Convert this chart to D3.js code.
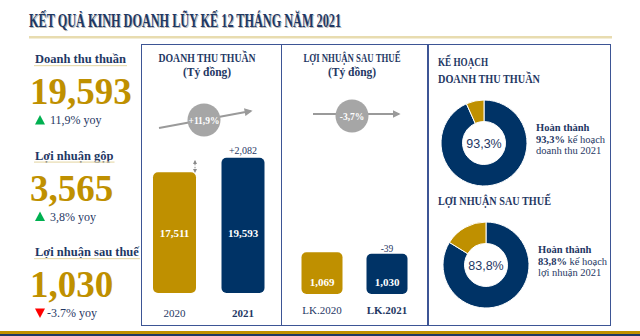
<!DOCTYPE html>
<html><head><meta charset="utf-8">
<script src="https://cdn.jsdelivr.net/npm/d3@7"></script>
<style>
html,body{margin:0;padding:0;background:#fff;}
svg{display:block;font-family:"Liberation Serif","DejaVu Serif",serif;}
</style></head>
<body>
<svg id="c" width="640" height="336"></svg>
<script>
// ---- data ----
const title = "KẾT QUẢ KINH DOANH LŨY KẾ 12 THÁNG NĂM 2021";
const metricNames = ["Doanh thu thuần", "Lợi nhuận gộp", "Lợi nhuận sau thuế"];
const metricValues = [19593, 3565, 1030];
const metricYoy = [11.9, 3.8, -3.7];
const metricYoyLabels = ["11,9% yoy", "3,8% yoy", "-3.7% yoy"];

const revenueTitle = ["DOANH THU THUẦN", "(Tỷ đồng)"];
const revenueCats = ["2020", "2021"];
const revenueVals = [17511, 19593];
const revenueDelta = "+2,082";
const revenueGrowth = "+11,9%";

const profitTitle = ["LỢI NHUẬN SAU THUẾ", "(Tỷ đồng)"];
const profitCats = ["LK.2020", "LK.2021"];
const profitVals = [1069, 1030];
const profitDelta = "-39";
const profitGrowth = "-3,7%";

const planHeaders = [["KẾ HOẠCH", "DOANH THU THUẦN"], ["LỢI NHUẬN SAU THUẾ"]];
const planPct = [93.3, 83.8];
const planPctLabels = ["93,3%", "83,8%"];
const planNotes = [["Hoàn thành", "93,3% kế hoạch", "doanh thu 2021"],
                   ["Hoàn thành", "83,8% kế hoạch", "lợi nhuận 2021"]];

// ---- style ----
const NAVY = "#1f3864", BAR_NAVY = "#003366", GOLD = "#bf9000", BEIGE = "#e8dcb0",
      BORDER = "#3d5595", GRAY = "#a6a6a6";
const fmt = d3.format(",");
const svg = d3.select("#c");

// title
svg.append("text").attr("x", 29).attr("y", 27).text(title)
  .attr("font-size", 18).attr("font-weight", "bold").attr("fill", "#bbb")
  .attr("textLength", 312).attr("lengthAdjust", "spacingAndGlyphs").attr("transform", "translate(1,1)");
svg.append("text").attr("x", 29).attr("y", 27).text(title)
  .attr("font-size", 18).attr("font-weight", "bold").attr("fill", NAVY)
  .attr("textLength", 312).attr("lengthAdjust", "spacingAndGlyphs");
svg.append("rect").attr("x", 29).attr("y", 36).attr("width", 583).attr("height", 2.5).attr("fill", BEIGE);

// bottom stripes
svg.append("rect").attr("x", 0).attr("y", 331).attr("width", 640).attr("height", 3).attr("fill", GOLD);
svg.append("rect").attr("x", 0).attr("y", 334).attr("width", 640).attr("height", 2).attr("fill", NAVY);

// panels
[[141, 281], [281, 427], [428, 610]].forEach(([a, b]) => {
  svg.append("rect").attr("x", a + 0.5).attr("y", 44.5).attr("width", b - a).attr("height", 281)
    .attr("fill", "none").attr("stroke", BORDER).attr("stroke-width", 1);
});

// left KPI column
const kpiY = d3.scalePoint().domain(metricNames).range([59, 252]);
metricNames.forEach((name, i) => {
  const y0 = kpiY(name);
  const t = svg.append("text").attr("x", 35).attr("y", y0 + 4).text(name)
    .attr("font-size", 12.5).attr("font-weight", "bold").attr("fill", NAVY);
  const w = t.node().getComputedTextLength();
  svg.append("rect").attr("x", 34).attr("y", y0 + 6).attr("width", w + 2).attr("height", 1.2).attr("fill", BEIGE);
  svg.append("text").attr("x", 30).attr("y", y0 + 45).text(fmt(metricValues[i]))
    .attr("font-size", 37).attr("font-weight", "bold").attr("fill", GOLD);
  const yy = y0 + 61;
  const up = metricYoy[i] >= 0;
  const tri = up ? `M35,${yy + 4.5} L45,${yy + 4.5} L40,${yy - 5} Z` : `M35,${yy - 4.5} L45,${yy - 4.5} L40,${yy + 5} Z`;
  svg.append("path").attr("d", tri).attr("fill", up ? "#00b050" : "#ff0000");
  svg.append("text").attr("x", up ? 50 : 47).attr("y", yy + 4).text(metricYoyLabels[i])
    .attr("font-size", 12).attr("fill", NAVY);
});

// helper: panel title
function panelTitle(cx, lines, w0) {
  lines.forEach((l, i) => {
    const t = svg.append("text").attr("x", cx).attr("y", 62 + i * 14).text(l)
      .attr("text-anchor", "middle").attr("font-size", 11.5).attr("font-weight", "bold").attr("fill", NAVY);
    if (i === 0) t.attr("textLength", w0).attr("lengthAdjust", "spacingAndGlyphs");
  });
}
const defs = svg.append("defs");
defs.append("marker").attr("id", "ah").attr("viewBox", "0 0 10 10").attr("refX", 8).attr("refY", 5)
  .attr("markerWidth", 4).attr("markerHeight", 4).attr("orient", "auto")
  .append("path").attr("d", "M0,0 L10,5 L0,10 Z").attr("fill", "#9a9a9a");
defs.append("marker").attr("id", "ahs").attr("viewBox", "0 0 10 10").attr("refX", 8).attr("refY", 5)
  .attr("markerWidth", 4).attr("markerHeight", 4).attr("orient", "auto-start-reverse")
  .append("path").attr("d", "M0,0 L10,5 L0,10 Z").attr("fill", "#8a8a8a");

function growthBadge(x1, y1, x2, y2, cx, cy, label) {
  svg.append("line").attr("x1", x1).attr("y1", y1).attr("x2", x2).attr("y2", y2)
    .attr("stroke", "#9a9a9a").attr("stroke-width", 2).attr("marker-end", "url(#ah)");
  svg.append("circle").attr("cx", cx).attr("cy", cy).attr("r", 16.5).attr("fill", GRAY);
  svg.append("text").attr("x", cx).attr("y", cy + 3.5).text(label).attr("text-anchor", "middle")
    .attr("font-size", 9.5).attr("font-weight", "bold").attr("fill", "#fff");
}

// Panel 1: revenue
panelTitle(207, revenueTitle, 97);
growthBadge(159, 128, 251, 111, 204, 120, revenueGrowth);
const x1 = d3.scalePoint().domain(revenueCats).range([174.5, 243]);
const y1 = d3.scaleLinear().domain([0, 20000]).range([293, 155]);
const bw1 = 43;
const barColors = [GOLD, BAR_NAVY];
revenueCats.forEach((c, i) => {
  svg.append("rect").attr("x", x1(c) - bw1 / 2).attr("y", y1(revenueVals[i])).attr("width", bw1)
    .attr("height", y1(0) - y1(revenueVals[i])).attr("rx", 5).attr("fill", barColors[i]);
  svg.append("text").attr("x", x1(c)).attr("y", 237).text(fmt(revenueVals[i])).attr("text-anchor", "middle")
    .attr("font-size", 11).attr("font-weight", "bold").attr("fill", "#fff");
  svg.append("text").attr("x", x1(c)).attr("y", 317).text(c).attr("text-anchor", "middle")
    .attr("font-size", 11).attr("font-weight", i === 1 ? "bold" : "normal").attr("fill", NAVY);
});
svg.append("text").attr("x", x1(revenueCats[1])).attr("y", 154).text(revenueDelta).attr("text-anchor", "middle")
  .attr("font-size", 10).attr("fill", NAVY);
svg.append("line").attr("x1", 195).attr("x2", 195).attr("y1", y1(revenueVals[1]) + 3).attr("y2", y1(revenueVals[0]))
  .attr("stroke", "#8a8a8a").attr("stroke-width", 1).attr("stroke-dasharray", "1.5,1.5")
  .attr("marker-start", "url(#ahs)").attr("marker-end", "url(#ahs)");

// Panel 2: profit
panelTitle(352, profitTitle, 97);
growthBadge(313, 114, 399, 114, 352, 116, profitGrowth);
const x2 = d3.scalePoint().domain(profitCats).range([322, 387]);
const y2 = d3.scaleLinear().domain([0, 1100]).range([294, 251]);
const bw2 = 41;
profitCats.forEach((c, i) => {
  svg.append("rect").attr("x", x2(c) - bw2 / 2).attr("y", y2(profitVals[i])).attr("width", bw2)
    .attr("height", y2(0) - y2(profitVals[i])).attr("rx", 5).attr("fill", barColors[i]);
  svg.append("text").attr("x", x2(c)).attr("y", 286).text(fmt(profitVals[i])).attr("text-anchor", "middle")
    .attr("font-size", 11).attr("font-weight", "bold").attr("fill", "#fff");
  svg.append("text").attr("x", x2(c)).attr("y", 314).text(c).attr("text-anchor", "middle")
    .attr("font-size", 11).attr("font-weight", i === 1 ? "bold" : "normal").attr("fill", NAVY);
});
svg.append("text").attr("x", x2(profitCats[1])).attr("y", y2(profitVals[1]) - 2).text(profitDelta).attr("text-anchor", "middle")
  .attr("font-size", 9.5).attr("fill", NAVY);

// Panel 3: plan donuts
const headerY = [[66, 83], [205]];
const headerW = [[50, 102], [113]];
planHeaders.forEach((lines, k) => lines.forEach((l, j) =>
  svg.append("text").attr("x", 438).attr("y", headerY[k][j]).text(l)
    .attr("font-size", 11.5).attr("font-weight", "bold").attr("fill", NAVY)
    .attr("textLength", headerW[k][j]).attr("lengthAdjust", "spacingAndGlyphs")));
const centers = [[484, 143], [486, 265]];
const pie = d3.pie().sort(null).value(d => d);
const arc = d3.arc().innerRadius(21.5).outerRadius(43);
const donutColors = [BAR_NAVY, GOLD];
planPct.forEach((p, k) => {
  const g = svg.append("g").attr("transform", `translate(${centers[k][0]},${centers[k][1]})`);
  g.selectAll("path").data(pie([p, 100 - p])).join("path").attr("d", arc)
    .attr("fill", (d, i) => donutColors[i]).attr("stroke", "#fff").attr("stroke-width", 1);
  g.append("text").attr("y", 4.5).text(planPctLabels[k]).attr("text-anchor", "middle")
    .attr("font-size", 12.5).attr("fill", NAVY).attr("font-family", "'Liberation Sans',sans-serif");
  planNotes[k].forEach((l, j) => {
    const t = svg.append("text").attr("x", centers[k][0] + 52).attr("y", centers[k][1] - 12 + j * 11.5)
      .attr("font-size", 10.5).attr("fill", NAVY);
    if (j === 0) t.attr("font-weight", "bold").text(l);
    else if (j === 1) {
      const parts = l.split(" ");
      t.append("tspan").attr("font-weight", "bold").text(parts[0]);
      t.append("tspan").text(" " + parts.slice(1).join(" "));
    } else t.text(l);
  });
});
</script>
</body></html>
